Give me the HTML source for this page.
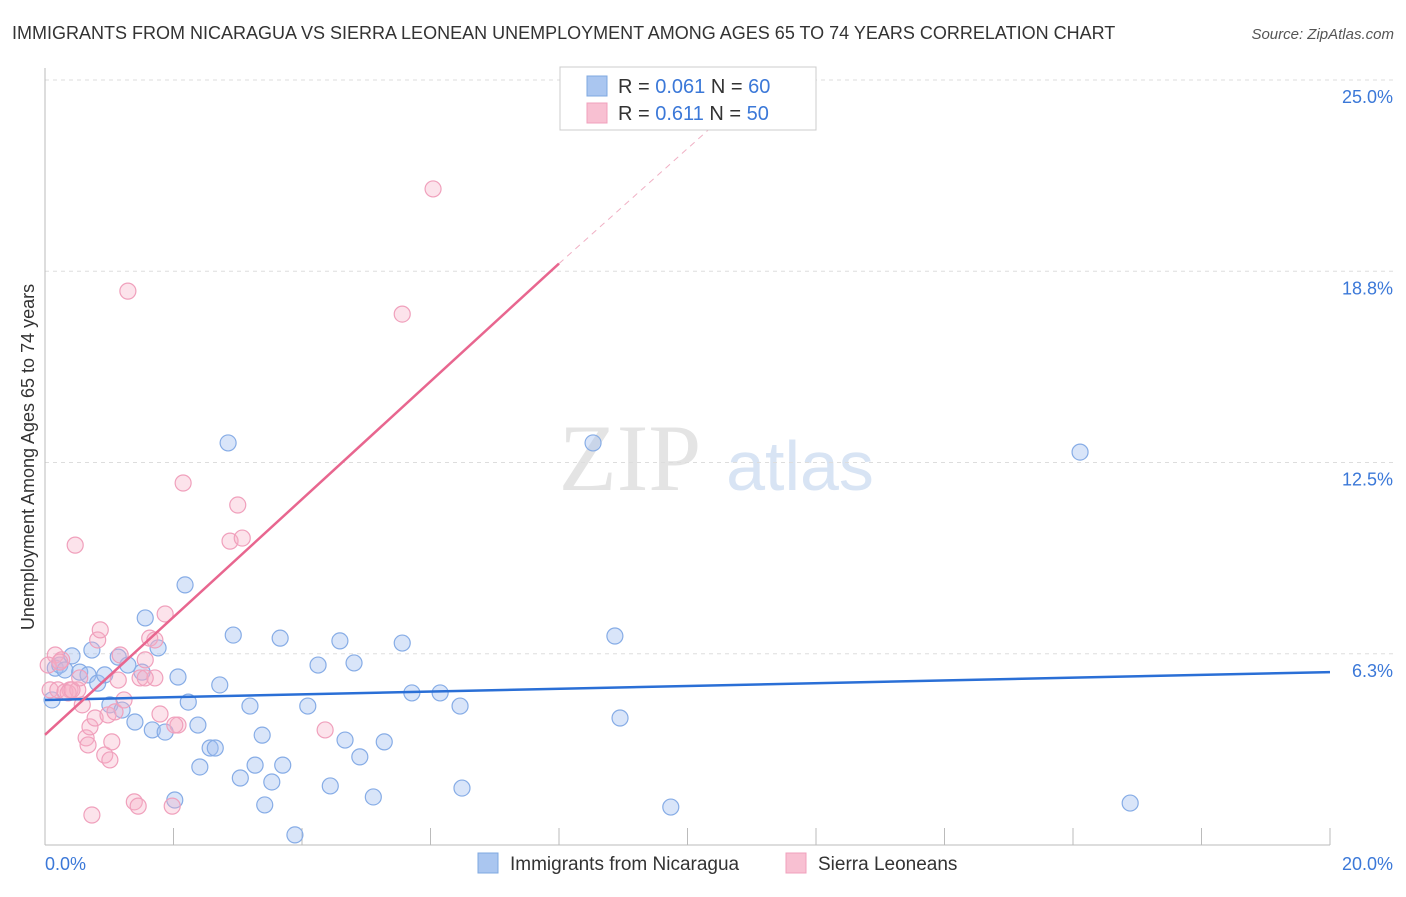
<!DOCTYPE html>
<html><head><meta charset="utf-8"><style>
body{margin:0;background:#fff;font-family:"Liberation Sans",sans-serif}
</style></head><body>
<svg width="1406" height="892" xmlns="http://www.w3.org/2000/svg" font-family="Liberation Sans, sans-serif">
<text x="12" y="39" font-size="18" fill="#333">IMMIGRANTS FROM NICARAGUA VS SIERRA LEONEAN UNEMPLOYMENT AMONG AGES 65 TO 74 YEARS CORRELATION CHART</text>
<text x="1394" y="39" font-size="15" fill="#555" font-style="italic" text-anchor="end">Source: ZipAtlas.com</text>
<text x="630" y="490" font-size="95" fill="#e4e4e4" font-family="Liberation Serif, serif" text-anchor="middle">ZIP</text>
<text x="800" y="490" font-size="70" fill="#d8e4f4" text-anchor="middle">atlas</text>
<g id="grid"></g>
<g id="axes"></g>
<g id="marks"></g>
<text transform="translate(34,457) rotate(-90)" font-size="18" fill="#333" text-anchor="middle">Unemployment Among Ages 65 to 74 years</text>
<g>
<rect x="560" y="67" width="256" height="63" fill="#fff" stroke="#ccc"/>
<rect x="587" y="76" width="20" height="20" fill="#aac6f0" stroke="#7fa8e0"/>
<rect x="587" y="103" width="20" height="20" fill="#f8c0d2" stroke="#f0a0bc"/>
<text x="618" y="93" font-size="20" fill="#333">R = <tspan fill="#3b78d8">0.061</tspan>   N = <tspan fill="#3b78d8">60</tspan></text>
<text x="618" y="120" font-size="20" fill="#333">R =  <tspan fill="#3b78d8">0.611</tspan>   N = <tspan fill="#3b78d8">50</tspan></text>
</g>
<g>
<rect x="478" y="853" width="20" height="20" fill="#aac6f0" stroke="#7fa8e0"/>
<text x="510" y="870" font-size="19" fill="#333">Immigrants from Nicaragua</text>
<rect x="786" y="853" width="20" height="20" fill="#f8c0d2" stroke="#f0a0bc"/>
<text x="818" y="870" font-size="19" fill="#333">Sierra Leoneans</text>
</g>
</svg>
<script>
const xTicks=[0,2,4,6,8,10,12,14,16,18,20];
const yTicks=[6.25,12.5,18.75,25];
const yTickLabels=["6.3%","12.5%","18.8%","25.0%"];
const blueX=[.11,.16,.23,.31,.42,.54,.67,.73,.82,.93,1.01,1.14,1.20,1.29,1.40,1.51,1.56,1.67,1.76,1.87,2.02,2.07,2.18,2.23,2.38,2.41,2.57,2.65,2.72,2.85,2.93,3.04,3.19,3.27,3.38,3.42,3.53,3.70,3.66,3.89,4.09,4.25,4.44,4.59,4.67,4.81,4.90,5.11,5.28,5.56,5.71,6.15,6.46,6.49,8.53,8.87,8.95,9.74,16.11,16.89];
const blueY=[4.74,5.78,5.88,5.72,6.18,5.65,5.56,6.37,5.29,5.56,4.58,6.14,4.41,5.88,4.02,5.65,7.42,3.76,6.44,3.69,1.47,5.49,8.50,4.67,3.92,2.55,3.17,3.17,5.23,13.14,6.86,2.19,4.54,2.61,3.59,1.31,2.06,2.61,6.76,0.33,4.54,5.88,1.93,6.67,3.43,5.95,2.88,1.57,3.37,6.60,4.97,4.97,4.54,1.86,13.14,6.83,4.15,1.24,12.84,1.37];
const pinkX=[.08,.16,.20,.26,.31,.39,.47,.51,.58,.64,.67,.70,.73,.78,.82,.86,.93,.98,1.01,1.04,1.09,1.14,1.23,1.29,1.39,1.45,1.48,1.56,1.63,1.71,1.79,1.87,1.98,2.07,2.15,2.88,3.00,3.07,4.36,5.56,6.04,.05,.23,.36,.42,.54,1.17,1.56,1.71,2.02];
const pinkY=[5.07,6.21,5.07,6.05,5.00,5.07,9.80,5.07,4.58,3.50,3.27,3.86,0.98,4.15,6.70,7.03,2.94,4.25,2.78,3.37,4.35,5.39,4.74,18.10,1.41,1.27,5.46,6.05,6.76,5.46,4.28,7.55,1.27,3.92,11.83,9.93,11.11,10.03,3.76,17.35,21.44,5.88,5.98,4.97,5.07,5.46,6.21,5.46,6.70,3.92];
const blueTrend=[4.74,5.65];
const pinkTrend=[3.6,19.0];
const pinkDashEnd=[10.66,24.0];
const X0=45,X1=1330,Y0=845,Y25=80;
const sx=v=>X0+(X1-X0)*v/20;
const sy=v=>Y0-(Y0-Y25)*v/25;
const NS="http://www.w3.org/2000/svg";
function mk(tag,attrs,parent){const e=document.createElementNS(NS,tag);for(const k in attrs)e.setAttribute(k,attrs[k]);document.getElementById(parent).appendChild(e);return e;}
yTicks.forEach((t,i)=>{
 const l=mk('line',{x1:X0,x2:1395,y1:sy(t),y2:sy(t),stroke:'#ddd','stroke-dasharray':'4,4'},'grid');
 
 
 const tx=mk('text',{x:1393,y:sy(t)+23,'font-size':18,fill:'#3b78d8','text-anchor':'end'},'grid');
 tx.textContent=yTickLabels[i];
 
 
});
const ax=mk('line',{x1:X0,x2:X0,y1:68,y2:Y0,stroke:'#bbb'},'axes');


const bx=mk('line',{x1:X0,x2:X1,y1:Y0,y2:Y0,stroke:'#bbb'},'axes');


xTicks.forEach(t=>{
 const l=mk('line',{x1:sx(t),x2:sx(t),y1:828,y2:Y0,stroke:'#bbb'},'axes');
 
 
});
[[0,'0.0%','start',45],[20,'20.0%','end',1393]].forEach(a=>{
 const tx=mk('text',{x:a[3],y:870,'font-size':18,fill:'#3b78d8','text-anchor':a[2]},'axes');
 tx.textContent=a[1];
 
 
});
blueX.forEach((v,i)=>{
 const c=mk('circle',{cx:sx(v),cy:sy(blueY[i]),r:8,fill:'rgba(160,190,240,0.4)',stroke:'#86ace6','stroke-width':1.2},'marks');
 
 
});
pinkX.forEach((v,i)=>{
 const c=mk('circle',{cx:sx(v),cy:sy(pinkY[i]),r:8,fill:'rgba(245,175,198,0.35)',stroke:'#f0a0bc','stroke-width':1.2},'marks');
 
 
});
const bl=mk('line',{x1:sx(0),y1:sy(blueTrend[0]),x2:sx(20),y2:sy(blueTrend[1]),stroke:'#2a6fd6','stroke-width':2.5},'marks');


const pl=mk('line',{x1:sx(0),y1:sy(pinkTrend[0]),x2:sx(8),y2:sy(pinkTrend[1]),stroke:'#e8668f','stroke-width':2.5},'marks');


const pd=mk('line',{x1:sx(8),y1:sy(pinkTrend[1]),x2:sx(pinkDashEnd[0]),y2:sy(pinkDashEnd[1]),stroke:'#f0b0c4','stroke-width':1,'stroke-dasharray':'6,5'},'marks');


</script>
</body></html>
